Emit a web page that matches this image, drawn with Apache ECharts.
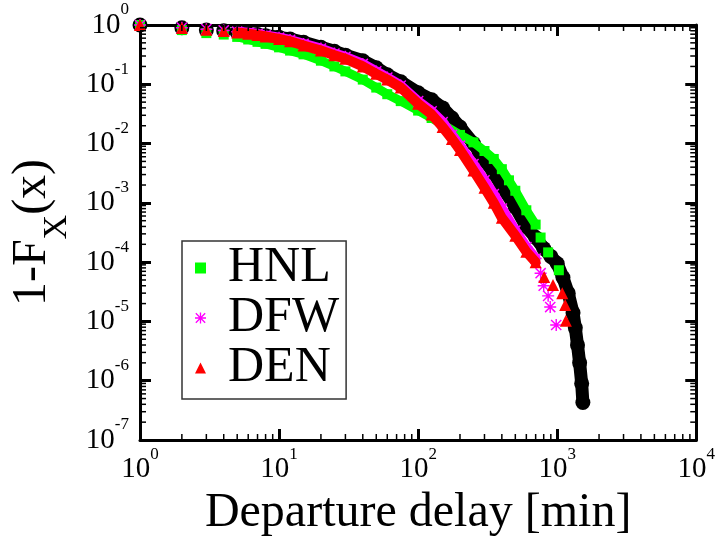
<!DOCTYPE html>
<html>
<head>
<meta charset="utf-8">
<script src="https://cdn.jsdelivr.net/npm/echarts@6/dist/echarts.min.js"></script>
<style>
html, body { margin: 0; padding: 0; background: #fff; }
#chart { width: 718px; height: 542px; }
</style>
</head>
<body>
<div id="chart"></div>
<script>
// all airports (black circles)
const delayAll = [1, 2, 3, 4, 5, 6, 7, 8, 10, 12, 15, 20, 25, 30, 40, 50, 60, 75, 100, 125, 150, 175, 200, 250, 275, 300, 350, 400, 500, 600, 700, 800, 900, 1000, 1100, 1200, 1300, 1350, 1400, 1450, 1500, 1530];
const ccdfAll = [1, 0.90, 0.82, 0.80, 0.75, 0.72, 0.69, 0.66, 0.62, 0.58, 0.51, 0.42, 0.36, 0.31, 0.25, 0.19, 0.145, 0.11, 0.072, 0.055, 0.040, 0.027, 0.019, 0.010, 0.0072, 0.0052, 0.0032, 0.0019, 8.5e-4, 4.0e-4, 2.6e-4, 1.7e-4, 1.25e-4, 9.5e-5, 5.5e-5, 3.0e-5, 1.4e-5, 7.8e-6, 4.0e-6, 2.0e-6, 9.0e-7, 4.3e-7];

// HNL
const delayHnl = [1, 2, 3, 4, 5, 6, 7, 8, 10, 12, 15, 20, 25, 30, 40, 50, 60, 75, 100, 125, 150, 200, 250, 300, 350, 400, 450, 500, 600, 700];
const ccdfHnl = [1, 0.82, 0.73, 0.69, 0.63, 0.57, 0.52, 0.48, 0.42, 0.37, 0.32, 0.25, 0.20, 0.165, 0.12, 0.088, 0.068, 0.052, 0.036, 0.027, 0.021, 0.014, 0.0105, 0.0075, 0.0055, 0.0037, 0.0024, 0.0016, 7.5e-4, 4.3e-4];
const delayHnlTail = [760, 861, 1028];
const ccdfHnlTail = [2.6e-4, 1.46e-4, 7.3e-5];

// DFW
const delayDfw = [1, 2, 3, 4, 5, 6, 7, 8, 10, 12, 15, 20, 25, 30, 40, 50, 60, 75, 100, 125, 150, 175, 200, 250, 300, 350, 400, 500, 600, 700];
const ccdfDfw = [1, 0.90, 0.85, 0.81, 0.77, 0.74, 0.71, 0.67, 0.61, 0.56, 0.48, 0.40, 0.33, 0.29, 0.22, 0.165, 0.13, 0.095, 0.052, 0.035, 0.023, 0.014, 0.0092, 0.0045, 0.0024, 0.0014, 8.0e-4, 3.4e-4, 1.8e-4, 1.15e-4];
const delayDfwTail = [760, 800, 861, 891, 984];
const ccdfDfwTail = [6.5e-5, 4.0e-5, 2.7e-5, 1.75e-5, 8.7e-6];

// DEN
const delayDen = [1, 2, 3, 4, 5, 6, 7, 8, 10, 12, 15, 20, 25, 30, 40, 50, 60, 75, 100, 125, 150, 175, 200, 250, 300, 350, 400, 500, 600, 700];
const ccdfDen = [1, 0.89, 0.83, 0.79, 0.75, 0.71, 0.68, 0.64, 0.58, 0.53, 0.45, 0.37, 0.31, 0.27, 0.20, 0.15, 0.12, 0.088, 0.047, 0.031, 0.019, 0.012, 0.0078, 0.0035, 0.0018, 0.0010, 5.6e-4, 2.8e-4, 1.5e-4, 1.0e-4];
const delayDenTail = [806, 933, 1087, 1142, 1155];
const ccdfDenTail = [5.6e-5, 4.1e-5, 3.0e-5, 1.9e-5, 1.03e-5];

const legendNames = ['HNL', 'DFW', 'DEN'];

const SERIF = 'Liberation Serif';
const ASTERISK = 'path://M8.8 0L11.2 0L11.2 20L8.8 20Z M0 8.8L20 8.8L20 11.2L0 11.2Z M2.35 0.65L19.35 17.65L17.65 19.35L0.65 2.35Z M19.35 2.35L2.35 19.35L0.65 17.65L17.65 0.65Z';

const pairs = (xs, ys) => xs.map((x, i) => [x, ys[i]]);
const band = (pts) => pts.filter(p => p[0] >= 5); // markers merge into a band from here on

// minor ticks at 2..9 of each decade
let minorTicks = [];
for (let e = 0; e < 4; e++) for (let m = 2; m <= 9; m++) minorTicks.push([m * Math.pow(10, e), 1e-7, 0]);
for (let e = -7; e < 0; e++) for (let m = 2; m <= 9; m++) minorTicks.push([1, m * Math.pow(10, e), 1]);

const powLabel = (v) => '{b|10}{s|' + Math.round(Math.log10(v)) + '}';
const powRich = {
    b: { fontSize: 29, fontFamily: SERIF, color: '#000', verticalAlign: 'bottom' },
    s: { fontSize: 17, fontFamily: SERIF, color: '#000', verticalAlign: 'top', padding: [0, 0, 21, 0] }
};

const chart = echarts.init(document.getElementById('chart'));

const scatterOf = (name, pts, symbol, size, color, z) => ({
    name: name, type: 'scatter', data: pts, symbol: symbol, symbolSize: size,
    itemStyle: { color: color, opacity: 1 }, clip: false, silent: true, z: z
});
const lineOf = (name, pts, width, color, z) => ({
    name: name + ' band', type: 'line', data: band(pts), symbol: 'none', silent: true, z: z,
    lineStyle: { color: color, width: width, cap: 'round', join: 'round' }
});

const allPts = pairs(delayAll, ccdfAll);
const hnlPts = pairs(delayHnl, ccdfHnl);
const dfwPts = pairs(delayDfw, ccdfDfw);
const denPts = pairs(delayDen, ccdfDen);

const option = {
    animationDuration: 300,
    textStyle: { fontFamily: SERIF },
    grid: { left: 139, right: 21, top: 25, bottom: 99 },
    legend: {
        data: [
            { name: legendNames[0], icon: 'rect' },
            { name: legendNames[1], icon: ASTERISK },
            { name: legendNames[2], icon: 'triangle' }
        ],
        orient: 'vertical',
        left: 182, top: 241,
        padding: [2, 7, 6, 13],
        itemWidth: 11, itemHeight: 11, itemGap: 0,
        symbolKeepAspect: true,
        selectedMode: false,
        borderColor: '#333', borderWidth: 1.5,
        textStyle: { fontFamily: SERIF, fontSize: 50, color: '#000', lineHeight: 40, padding: [0, 0, 0, 17] }
    },
    xAxis: [{
        type: 'log', logBase: 10, min: 1, max: 10000, splitNumber: 4,
        name: 'Departure delay [min]', nameLocation: 'middle', nameGap: 49,
        nameTextStyle: { fontFamily: SERIF, fontSize: 48, color: '#000', lineHeight: 48 },
        axisLine: { lineStyle: { color: '#000', width: 3 } },
        axisTick: { inside: true, length: 11, lineStyle: { color: '#000', width: 3 } },
        axisLabel: { margin: 6, formatter: powLabel, rich: powRich },
        splitLine: { show: false }
    }, {
        type: 'log', logBase: 10, min: 1, max: 10000, splitNumber: 4, position: 'top',
        axisLine: { lineStyle: { color: '#000', width: 3 } },
        axisTick: { inside: true, length: 11, lineStyle: { color: '#000', width: 3 } },
        axisLabel: { show: false }, splitLine: { show: false }
    }],
    yAxis: [{
        type: 'log', logBase: 10, min: 1e-7, max: 1, splitNumber: 7,
        name: '{a|1-F}{sub|X}{a|(x)}', nameLocation: 'middle', nameRotate: 90, nameGap: 66,
        nameTextStyle: {
            rich: {
                a: { fontFamily: SERIF, fontSize: 48, color: '#000', verticalAlign: 'top' },
                sub: { fontFamily: SERIF, fontSize: 34, color: '#000', verticalAlign: 'bottom', padding: [32, 0, 0, 0] }
            }
        },
        axisLine: { lineStyle: { color: '#000', width: 3 } },
        axisTick: { inside: true, length: 11, lineStyle: { color: '#000', width: 3 } },
        axisLabel: { margin: 11, formatter: powLabel, rich: powRich, padding: [0, 0, 9, 0] },
        splitLine: { show: false }
    }, {
        type: 'log', logBase: 10, min: 1e-7, max: 1, splitNumber: 7, position: 'right',
        axisLine: { lineStyle: { color: '#000', width: 3 } },
        axisTick: { inside: true, length: 11, lineStyle: { color: '#000', width: 3 } },
        axisLabel: { show: false }, splitLine: { show: false }
    }],
    series: [
        scatterOf('all', allPts, 'circle', 15, '#000', 3),
        lineOf('all', allPts, 13, '#000', 2),
        scatterOf('HNL', hnlPts.concat(pairs(delayHnlTail, ccdfHnlTail)), 'rect', 10, '#00ff00', 5),
        lineOf('HNL', hnlPts, 9, '#00ff00', 4),
        scatterOf('DFW', dfwPts.concat(pairs(delayDfwTail, ccdfDfwTail)), ASTERISK, 12, '#ff00ff', 7),
        lineOf('DFW', dfwPts, 10, '#ff00ff', 6),
        scatterOf('DEN', denPts.concat(pairs(delayDenTail, ccdfDenTail)), 'triangle', 12, '#ff0000', 9),
        lineOf('DEN', denPts, 10, '#ff0000', 8),
        {
            type: 'custom', data: minorTicks, silent: true, z: 10, clip: false,
            encode: { x: 0, y: 1 },
            renderItem: function (params, api) {
                const kind = api.value(2);
                const L = 6;
                if (kind === 0) {
                    const b = api.coord([api.value(0), 1e-7]);
                    const t = api.coord([api.value(0), 1]);
                    return { type: 'group', children: [
                        { type: 'line', shape: { x1: b[0], y1: b[1], x2: b[0], y2: b[1] - L }, style: { stroke: '#000', lineWidth: 1.5 } },
                        { type: 'line', shape: { x1: t[0], y1: t[1], x2: t[0], y2: t[1] + L }, style: { stroke: '#000', lineWidth: 1.5 } }
                    ] };
                }
                const l = api.coord([1, api.value(1)]);
                const r = api.coord([10000, api.value(1)]);
                return { type: 'group', children: [
                    { type: 'line', shape: { x1: l[0], y1: l[1], x2: l[0] + L, y2: l[1] }, style: { stroke: '#000', lineWidth: 1.5 } },
                    { type: 'line', shape: { x1: r[0], y1: r[1], x2: r[0] - L, y2: r[1] }, style: { stroke: '#000', lineWidth: 1.5 } }
                ] };
            }
        }
    ]
};

chart.setOption(option);
</script>
</body>
</html>
